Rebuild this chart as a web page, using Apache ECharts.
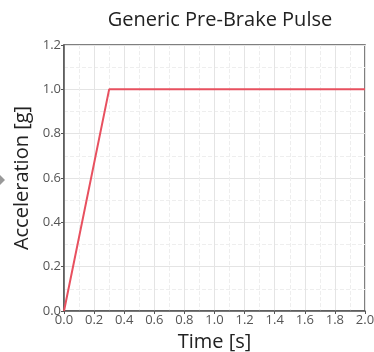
<!DOCTYPE html>
<html>
<head>
<meta charset="utf-8">
<script src="https://cdn.jsdelivr.net/npm/echarts@6/dist/echarts.min.js"></script>
<style>
  html, body { margin: 0; padding: 0; background: #fff; }
  #chart { width: 374px; height: 352px; }
</style>
</head>
<body>
<div id="chart"></div>
<script>
// pulse data: time [s] vs acceleration [g]
var timeVals = [0.0, 0.3, 2.0];
var accelVals = [0.0, 1.0, 1.0];

var chart = echarts.init(document.getElementById('chart'));
var font = '"Open Sans", "Noto Sans", sans-serif';

var option = {
  animation: false,
  title: {
    text: 'Generic Pre-Brake Pulse',
    left: 215,
    textAlign: 'center',
    top: 5,
    textStyle: { fontFamily: font, fontSize: 20, fontWeight: 'normal', color: '#222' }
  },
  grid: {
    left: 64, right: 9, top: 45, bottom: 41,
    outerBoundsMode: 'none',
    show: true, borderColor: '#555', borderWidth: 1.5
  },
  xAxis: {
    type: 'value', min: 0, max: 2, interval: 0.2,
    name: 'Time [s]', nameLocation: 'middle', nameGap: 18,
    nameTextStyle: { fontFamily: font, fontSize: 20, color: '#222' },
    axisLine: { lineStyle: { color: '#555', width: 1.5 } },
    axisTick: { show: true, length: 3, lineStyle: { color: '#555' } },
    axisLabel: { fontFamily: font, fontSize: 13, color: '#555', margin: 3,
      formatter: function (v) { return v.toFixed(1); } },
    splitLine: { show: true, lineStyle: { color: '#e4e4e4', width: 1 } },
    minorTick: { show: false, splitNumber: 2 },
    minorSplitLine: { show: true, lineStyle: { color: '#eeeeee', type: 'dashed' } }
  },
  yAxis: {
    type: 'value', min: 0, max: 1.2, interval: 0.2,
    name: 'Acceleration [g]', nameLocation: 'middle', nameGap: 27,
    nameTextStyle: { fontFamily: font, fontSize: 20, color: '#222' },
    axisLine: { show: true, lineStyle: { color: '#555', width: 1.5 } },
    axisTick: { show: true, length: 3, lineStyle: { color: '#555' } },
    axisLabel: { fontFamily: font, fontSize: 13, color: '#555', margin: 3,
      formatter: function (v) { return v.toFixed(1); } },
    splitLine: { show: true, lineStyle: { color: '#e4e4e4', width: 1 } },
    minorTick: { show: false, splitNumber: 2 },
    minorSplitLine: { show: true, lineStyle: { color: '#eeeeee', type: 'dashed' } }
  },
  graphic: [{
    type: 'polygon',
    shape: { points: [[0, 175], [5, 180], [0, 185]] },
    style: { fill: '#999' }
  }],
  series: [{
    type: 'line',
    data: timeVals.map(function (t, i) { return [t, accelVals[i]]; }),
    symbol: 'none',
    lineStyle: { color: '#e8505f', width: 2 }
  }]
};
chart.setOption(option);
</script>
</body>
</html>
